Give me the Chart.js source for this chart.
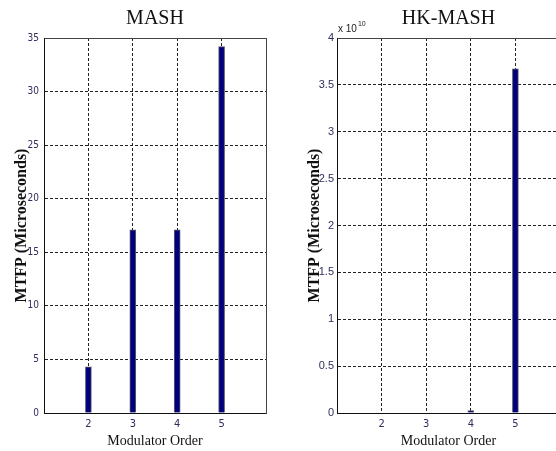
<!DOCTYPE html>
<html><head><meta charset="utf-8">
<script src="https://cdn.jsdelivr.net/npm/chart.js@4"></script>
<style>
html,body{margin:0;padding:0;background:#fff;overflow:hidden;}
#wrap{position:relative;width:556px;height:451px;overflow:hidden;background:#fff;}
canvas{position:absolute;top:0;}
</style></head><body>
<div id="wrap">
<canvas id="c1" width="280" height="451" style="left:0px"></canvas>
<canvas id="c2" width="300" height="451" style="left:280px"></canvas>
</div>
<script>
// ---- data ----
const orders = [2, 3, 4, 5];
const mashMTFP = [4.3, 17.1, 17.1, 34.2];          // microseconds
const hkMashMTFP = [0, 0, 2.5e8, 3.67e10];          // microseconds
const xTickValues = [2, 3, 4, 5];
const mashYTicks = [0, 5, 10, 15, 20, 25, 30, 35];
const hkYTicks = [0, 0.5e10, 1e10, 1.5e10, 2e10, 2.5e10, 3e10, 3.5e10, 4e10];
const titles = ['MASH', 'HK-MASH'];
const xTitle = 'Modulator Order';
const yTitle = 'MTFP (Microseconds)';

const tickColor = '#2e2e5e';
const narrow = '"Liberation Sans Narrow", "Arial Narrow", "DejaVu Sans Condensed", sans-serif';
const serif = '"Liberation Serif", "Times New Roman", serif';

function makeChart(id, title, values, yTicks, yMax, opts) {
  const ctx = document.getElementById(id);
  return new Chart(ctx, {
    type: 'bar',
    data: {
      datasets: [{
        data: orders.map((x, i) => ({x: x, y: values[i]})),
        backgroundColor: '#00007a',
        borderColor: '#5a5a6a',
        borderWidth: 1,
        barThickness: 6,
        borderSkipped: 'bottom'
      }]
    },
    options: {
      responsive: false,
      animation: false,
      devicePixelRatio: 1,
      layout: {padding: 0},
      plugins: {legend: {display: false}, tooltip: {enabled: false}, title: {display: false}},
      scales: {
        x: {
          type: 'linear', position: 'bottom', min: 1, max: 6, offset: false,
          afterBuildTicks: s => { s.ticks = xTickValues.map(v => ({value: v})); },
          afterFit: s => { s.height = 38; },
          grid: {color: '#222', lineWidth: 1, drawTicks: false, offset: false},
          border: {display: true, color: '#111', width: 1, dash: [3, 2]},
          ticks: {color: tickColor, font: {family: narrow, size: 11}, padding: 5, maxRotation: 0},
          title: {display: true, text: xTitle, color: '#111',
                  font: {family: serif, size: 14},
                  padding: {top: 0, bottom: 1}}
        },
        x2: {
          type: 'linear', axis: 'x', position: 'top', min: 1, max: 6, offset: false,
          afterFit: s => { s.height = 38; },
          grid: {display: false, drawTicks: false},
          border: {display: true, color: '#444', width: 1},
          ticks: {display: false},
          title: {display: true, text: title, color: '#111',
                  font: {family: serif, size: 20},
                  padding: {top: 7, bottom: 0}}
        },
        y: {
          type: 'linear', position: 'left', min: 0, max: yMax,
          afterBuildTicks: s => { s.ticks = yTicks.map(v => ({value: v})); },
          afterFit: s => { s.width = opts.yWidth; },
          grid: {color: '#222', lineWidth: 1, drawTicks: false},
          border: {display: true, color: '#111', width: 1, dash: [3, 2]},
          ticks: {color: tickColor, font: opts.yFont, padding: opts.yPad,
                  callback: opts.yFmt},
          title: {display: true, text: yTitle, color: '#111',
                  font: {family: serif, size: 16, weight: 'bold'},
                  padding: {top: opts.yTitlePad, bottom: 0}}
        },
        y2: {
          type: 'linear', axis: 'y', position: 'right', min: 0, max: yMax,
          afterFit: s => { s.width = opts.rightWidth; },
          grid: {display: false, drawTicks: false},
          border: {display: true, color: '#444', width: 1},
          ticks: {display: false}
        }
      }
    },
    plugins: opts.plugins || []
  });
}

const exponentPlugin = {
  id: 'exponentLabel',
  afterDraw(chart) {
    const {ctx, chartArea} = chart;
    ctx.save();
    ctx.fillStyle = '#222';
    ctx.textBaseline = 'alphabetic';
    ctx.textAlign = 'left';
    ctx.font = '10px "Liberation Sans", Arial, sans-serif';
    const base = 'x 10';
    ctx.fillText(base, chartArea.left + 1, chartArea.top - 6);
    const w = ctx.measureText(base).width;
    ctx.font = '7px "Liberation Sans", Arial, sans-serif';
    ctx.fillText('10', chartArea.left + 2 + w, chartArea.top - 12);
    ctx.restore();
  }
};

makeChart('c1', titles[0], mashMTFP, mashYTicks, 35, {
  yWidth: 44, rightWidth: 14, yPad: 5, yTitlePad: 12,
  yFont: {family: narrow, size: 10},
  yFmt: v => String(v)
});

makeChart('c2', titles[1], hkMashMTFP, hkYTicks, 4e10, {
  yWidth: 57, rightWidth: 20, yPad: 3, yTitlePad: 25,
  yFont: {family: '"Liberation Sans", Arial, sans-serif', size: 11},
  yFmt: v => String(Math.round(v / 1e9) / 10),
  plugins: [exponentPlugin]
});
</script>
</body></html>
